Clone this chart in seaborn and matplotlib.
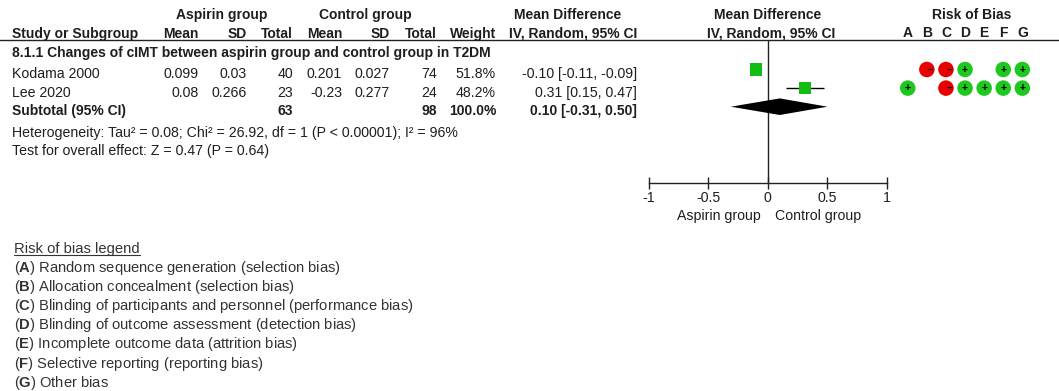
import numpy as np
import pandas as pd
import matplotlib
matplotlib.use('Agg')
import matplotlib.pyplot as plt
import seaborn as sns

sns.set_style('white')
plt.rcParams['font.family'] = ['Liberation Sans', 'DejaVu Sans']
plt.rcParams['mathtext.fontset'] = 'custom'
plt.rcParams['mathtext.rm'] = 'Liberation Sans'
plt.rcParams['mathtext.bf'] = 'Liberation Sans:bold'

# data
studies = ['Kodama 2000', 'Lee 2020']
asp_mean = [0.099, 0.08]
asp_sd = [0.03, 0.266]
asp_n = [40, 23]
ctl_mean = [0.201, -0.23]
ctl_sd = [0.027, 0.277]
ctl_n = [74, 24]
weights = [51.8, 48.2]
md = [-0.10, 0.31]
md_lo = [-0.11, 0.15]
md_hi = [-0.09, 0.47]
sub_md, sub_lo, sub_hi = 0.10, -0.31, 0.50
subgroup = '8.1.1 Changes of cIMT between aspirin group and control group in T2DM'
heterogeneity = 'Heterogeneity: Tau² = 0.08; Chi² = 26.92, df = 1 (P < 0.00001); I² = 96%'
overall = 'Test for overall effect: Z = 0.47 (P = 0.64)'
xticks = [-1, -0.5, 0, 0.5, 1]
xticklabels = ['-1', '-0.5', '0', '0.5', '1']
favours = ['Aspirin group', 'Control group']

domains = ['A', 'B', 'C', 'D', 'E', 'F', 'G']
rob = {
    'Kodama 2000': [None, 'high', 'high', 'low', None, 'low', 'low'],
    'Lee 2020': ['low', None, 'high', 'low', 'low', 'low', 'low'],
}
legend_items = [
    ('A', 'Random sequence generation (selection bias)'),
    ('B', 'Allocation concealment (selection bias)'),
    ('C', 'Blinding of participants and personnel (performance bias)'),
    ('D', 'Blinding of outcome assessment (detection bias)'),
    ('E', 'Incomplete outcome data (attrition bias)'),
    ('F', 'Selective reporting (reporting bias)'),
    ('G', 'Other bias'),
]

W, H = 1059, 391
FS = 10.2      # regular text
FSB = 10.0     # bold text
FSL = 10.6     # legend text
TXT = '#1e1e1e'
fig = plt.figure(figsize=(W / 100, H / 100), dpi=100)


def box(x0, y0, x1, y1):
    return [x0 / W, 1 - y1 / H, (x1 - x0) / W, (y1 - y0) / H]


# page axes in pixel units for the table text
ax = fig.add_axes([0, 0, 1, 1])
ax.set_xlim(0, W)
ax.set_ylim(H, 0)
ax.axis('off')


def txt(x, y, s, ha='left', bold=False, **kw):
    return ax.text(x, y, s, ha=ha, va='baseline', fontsize=FSB if bold else FS,
                   color=TXT, fontweight='bold' if bold else 'normal', **kw)


# column anchors (right edges)
C_AM, C_ASD, C_AN = 199, 247, 293
C_CM, C_CSD, C_CN = 342, 390, 437
C_W, C_CI = 496, 637

# headers
txt(222, 19, 'Aspirin group', ha='center', bold=True)
txt(365, 19, 'Control group', ha='center', bold=True)
txt(568, 19, 'Mean Difference', ha='center', bold=True)
txt(768, 19, 'Mean Difference', ha='center', bold=True)
txt(971.5, 19, 'Risk of Bias', ha='center', bold=True)
hdr_y = 38
txt(12.5, hdr_y, 'Study or Subgroup', bold=True)
txt(C_AM, hdr_y, 'Mean', ha='right', bold=True)
txt(C_ASD, hdr_y, 'SD', ha='right', bold=True)
txt(C_AN, hdr_y, 'Total', ha='right', bold=True)
txt(C_CM, hdr_y, 'Mean', ha='right', bold=True)
txt(C_CSD, hdr_y, 'SD', ha='right', bold=True)
txt(C_CN, hdr_y, 'Total', ha='right', bold=True)
txt(C_W, hdr_y, 'Weight', ha='right', bold=True)
txt(C_CI, hdr_y, 'IV, Random, 95% CI', ha='right', bold=True)
txt(771, hdr_y, 'IV, Random, 95% CI', ha='center', bold=True)
ax.plot([0, W], [39.8, 39.8], color='#222222', lw=1)

txt(12.5, 57, subgroup, bold=True)
row_base = [78, 97]
for i, s in enumerate(studies):
    y = row_base[i]
    txt(12.5, y, s)
    txt(C_AM, y, str(asp_mean[i]), ha='right')
    txt(C_ASD, y, str(asp_sd[i]), ha='right')
    txt(C_AN, y, str(asp_n[i]), ha='right')
    txt(C_CM, y, str(ctl_mean[i]), ha='right')
    txt(C_CSD, y, str(ctl_sd[i]), ha='right')
    txt(C_CN, y, str(ctl_n[i]), ha='right')
    txt(C_W, y, f'{weights[i]:.1f}%', ha='right')
    txt(C_CI, y, f'{md[i]:.2f} [{md_lo[i]:.2f}, {md_hi[i]:.2f}]', ha='right')
y = 115
txt(12.5, y, 'Subtotal (95% CI)', bold=True)
txt(C_AN, y, str(sum(asp_n)), ha='right', bold=True)
txt(C_CN, y, str(sum(ctl_n)), ha='right', bold=True)
txt(C_W, y, f'{sum(weights):.1f}%', ha='right', bold=True)
txt(C_CI, y, f'{sub_md:.2f} [{sub_lo:.2f}, {sub_hi:.2f}]', ha='right', bold=True)
txt(12.5, 137, heterogeneity)
txt(12.5, 155, overall)

# favours labels
txt(718.5, 220, favours[0], ha='center')
txt(818.5, 220, favours[1], ha='center')

# forest axes
ROW0, STEP = 69.5, 18.6
AX_TOP, AX_BOT = 39.8, 182.7
ylim = ((AX_BOT - ROW0) / STEP, (AX_TOP - ROW0) / STEP)
fax = fig.add_axes(box(648.6, AX_TOP, 887.1, AX_BOT))
fax.patch.set_alpha(0)
df = pd.DataFrame({'study': studies, 'md': md, 'lo': md_lo, 'hi': md_hi,
                   'w': weights, 'row': np.arange(len(studies))})
fax.hlines(df['row'], df['lo'], df['hi'], color='black', lw=1, zorder=2)
sns.scatterplot(data=df, x='md', y='row', marker='s', color='#10bd10',
                s=df['w'] * 1.6, edgecolor='none', legend=False, zorder=3, ax=fax)
sr = len(studies)
dh = 8.3 / STEP
fax.fill([sub_lo, sub_md, sub_hi, sub_md], [sr, sr - dh, sr, sr + dh],
         color='black', lw=0, zorder=3)
fax.axvline(0, color='#222222', lw=1, zorder=1)
fax.set_xlim(-1, 1)
fax.set_ylim(*ylim)
fax.set_xticks(xticks)
fax.set_xticklabels(xticklabels)
fax.set_yticks([])
fax.set_xlabel('')
fax.set_ylabel('')
for sp in ['left', 'right', 'top']:
    fax.spines[sp].set_visible(False)
fax.spines['bottom'].set_color('#222222')
fax.spines['bottom'].set_linewidth(1)
fax.tick_params(axis='x', direction='inout', length=8, width=1, color='#222222',
                labelsize=FS, labelcolor=TXT, pad=1.8, bottom=True)

# risk of bias axes
rows = []
for r, s in enumerate(studies):
    for j, d in enumerate(domains):
        if rob[s][j] is not None:
            rows.append({'study': s, 'row': r, 'x': j, 'judgement': rob[s][j]})
rdf = pd.DataFrame(rows)
rax = fig.add_axes(box(898.2, AX_TOP, 1031.9, AX_BOT))
rax.patch.set_alpha(0)
sns.scatterplot(data=rdf, x='x', y='row', hue='judgement',
                palette={'low': '#1ec81e', 'high': '#e60000'},
                s=125, edgecolor='none', legend=False, ax=rax)
for _, r in rdf.iterrows():
    if r['judgement'] == 'low':
        rax.text(r['x'], r['row'], '+', ha='center', va='center',
                 fontsize=7.5, fontweight='bold', color='black')
    else:
        rax.text(r['x'] + 0.2, r['row'], '−', ha='center', va='center',
                 fontsize=7, fontweight='bold', color='black')
rax.set_xlim(-0.5, len(domains) - 0.5)
rax.set_ylim(*ylim)
rax.set_xticks(range(len(domains)))
rax.set_xticklabels(domains, fontweight='bold')
rax.set_yticks([])
rax.set_xlabel('')
rax.set_ylabel('')
for sp in rax.spines.values():
    sp.set_visible(False)
rax.tick_params(axis='x', length=0, labelsize=FSB, labelcolor=TXT,
                labelbottom=False, labeltop=True, top=False, bottom=False, pad=0.2)

# risk of bias legend
LEG = '#333333'
fig.canvas.draw()
renderer = fig.canvas.get_renderer()
t = ax.text(14, 252.7, 'Risk of bias legend', ha='left', va='baseline',
            fontsize=FSL, color=LEG)
bb = t.get_window_extent(renderer).transformed(ax.transData.inverted())
ax.plot([bb.x0, bb.x1], [254.6, 254.6], color=LEG, lw=0.8)
for k, (letter, label) in enumerate(legend_items):
    ax.text(14, 271.7 + k * 19.17, r'($\mathbf{' + letter + r'}$) ' + label,
            ha='left', va='baseline', fontsize=FSL, color=LEG)

fig.savefig('out.png', dpi=100)
